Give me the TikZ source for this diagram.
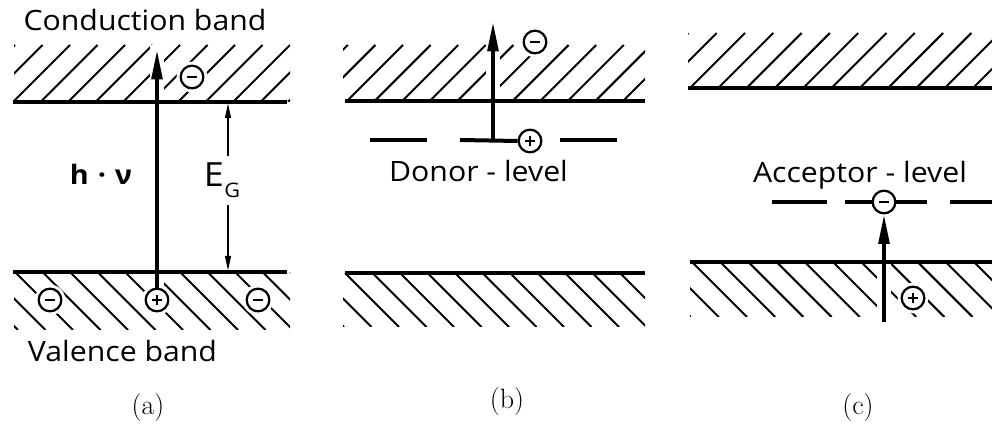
\documentclass[tikz,border=0pt]{standalone}
\usepackage{fontspec}
\newfontfamily\labfont[FakeStretch=1.08]{Open Sans}
\usetikzlibrary{arrows.meta}
\newcommand{\hatchslash}[6]{%
  \begin{scope}
    \clip (#1,#2) rectangle (#3,#4);
    \pgfmathsetmacro\hatchH{#4-#2}
    \foreach \k in {-3,...,13}{\draw[hatch] ({#5+\k*#6},#4) -- ++(\hatchH,-\hatchH);}
  \end{scope}}
\newcommand{\hatchback}[6]{%
  \begin{scope}
    \clip (#1,#2) rectangle (#3,#4);
    \pgfmathsetmacro\hatchH{#4-#2}
    \foreach \k in {-3,...,13}{\draw[hatch] ({#5+\k*#6},#2) -- ++(\hatchH,\hatchH);}
  \end{scope}}
\begin{document}
\begin{tikzpicture}[x=0.75pt,y=-0.75pt,
  hatch/.style={line width=1.5pt},
  band/.style={line width=2.4pt},
  level/.style={line width=3pt},
  bigarrow/.style={line width=2.8pt,-{Triangle[length=22pt,width=8pt]}},
  thinarrow/.style={line width=1pt,-{Triangle[length=11pt,width=4.5pt]}},
  halo/.style={white,line width=10pt},
  charge/.style={circle,draw,fill=white,line width=1.7pt,minimum size=17pt,inner sep=0pt},
  chargeminus/.style={charge,path picture={\draw[line width=2pt] ([xshift=-3.6pt]path picture bounding box.center) -- ([xshift=3.6pt]path picture bounding box.center);}},
  chargeplus/.style={charge,path picture={\draw[line width=2pt] ([xshift=-3.6pt]path picture bounding box.center) -- ([xshift=3.6pt]path picture bounding box.center) ([yshift=-3.6pt]path picture bounding box.center) -- ([yshift=3.6pt]path picture bounding box.center);}},
  lab/.style={font=\labfont\fontsize{21}{25}\selectfont,inner sep=0pt,anchor=base},
  subcap/.style={font=\fontsize{21}{25}\selectfont,inner sep=0pt}]
\useasboundingbox (0,0) rectangle (992,441);

% positions of charges
\coordinate (pan1) at (192,77);
\coordinate (pan2) at (50,300);
\coordinate (pap) at (157,300);
\coordinate (pan3) at (258,300);
\coordinate (pbn) at (535,42);
\coordinate (pbp) at (530,141);
\coordinate (pcn) at (884,202);
\coordinate (pcp) at (913,298);

% hatching
\hatchslash{14}{45}{290}{102}{13}{27.5}
\hatchback{14}{272}{290}{330}{15}{27.5}
\hatchslash{343}{45}{645}{101}{347}{27.6}
\hatchback{343}{273}{645}{327}{345}{27.5}
\hatchslash{688}{33}{992}{88}{690}{28.3}
\hatchback{690}{262}{992}{317}{692}{28.2}

% gaps in hatching
\draw[halo] (157,45) -- (157,102);
\draw[halo] (157,272) -- (157,292);
\draw[halo] (493,45) -- (493,101);
\draw[halo] (884,262) -- (884,318);
\foreach \p in {pan1,pan2,pap,pan3,pbn,pcp}{\fill[white] (\p) circle[radius=11.5pt];}

% band edges
\coordinate (ac1) at (13,102); \coordinate (ac2) at (287,102);
\coordinate (av1) at (13,272); \coordinate (av2) at (287,272);
\coordinate (bc1) at (345,101); \coordinate (bc2) at (645,101);
\coordinate (bv1) at (345,273); \coordinate (bv2) at (645,273);
\coordinate (cc1) at (688,88); \coordinate (cc2) at (992,88);
\coordinate (cv1) at (690,262); \coordinate (cv2) at (992,262);
\draw[band] (ac1) -- (ac2);
\draw[band] (av1) -- (av2);
\draw[band] (bc1) -- (bc2);
\draw[band] (bv1) -- (bv2);
\draw[band] (cc1) -- (cc2);
\draw[band] (cv1) -- (cv2);

% charges
\node[chargeminus] (an1) at (pan1) {};
\node[chargeminus] (an2) at (pan2) {};
\node[chargeplus] (ap) at (pap) {};
\node[chargeminus] (an3) at (pan3) {};
\node[chargeminus] (bn) at (pbn) {};
\node[chargeplus] (bp) at (pbp) {};
\node[chargeminus] (cn) at (pcn) {};
\node[chargeplus] (cp) at (pcp) {};

% donor level
\coordinate (bd1) at (370,140); \coordinate (bd2) at (427,140);
\coordinate (bd3) at (460,140);
\coordinate (bd5) at (560,140); \coordinate (bd6) at (617,140);
\draw[level] (bd1) -- (bd2);
\draw[level] (bd3) -- (bp.west);
\draw[level] (bd5) -- (bd6);

% acceptor level
\coordinate (cd1) at (772,202); \coordinate (cd2) at (827,202);
\coordinate (cd3) at (845,202);
\coordinate (cd6) at (927,202);
\coordinate (cd7) at (950,202); \coordinate (cd8) at (992,202);
\draw[level] (cd1) -- (cd2);
\draw[level] (cd3) -- (cn.west);
\draw[level] (cn.east) -- (cd6);
\draw[level] (cd7) -- (cd8);

% arrows
\coordinate (atip) at (157,50);
\draw[bigarrow] (ap.north) -- (atip);
\coordinate (bbase) at (493,140); \coordinate (btip) at (493,22);
\draw[bigarrow] (bbase) -- (btip);
\coordinate (cbase) at (884,322);
\draw[bigarrow] (cbase) -- (cn.south);

% texts
\node[lab] (tcb) at (145,31) {Conduction band};
\node[lab] (tvb) at (122.5,362) {Valence band};
\node[lab] (tdl) at (478.5,182) {Donor - level};
\node[lab] (tal) at (860,183) {Acceptor - level};
\node[font=\labfont\bfseries\fontsize{20}{24}\selectfont,inner sep=0pt,anchor=base] (hv) at (101,185) {h\,\,·\,\,ν};
\node[font=\labfont\fontsize{25}{28}\selectfont,inner sep=5pt,anchor=base] (eg) at (222,187) {E\kern0.5pt\raisebox{-8pt}{\fontsize{15}{17}\selectfont G}};
\coordinate (egt) at (228,103.5); \coordinate (egb) at (228,270.5);
\draw[thinarrow] (eg.north -| egt) -- (egt);
\draw[thinarrow] (eg.south -| egb) -- (egb);

% captions
\node[subcap] (la) at (148,408) {(a)};
\node[subcap] (lb) at (507,402) {(b)};
\node[subcap] (lc) at (858,408) {(c)};
\end{tikzpicture}
\end{document}
